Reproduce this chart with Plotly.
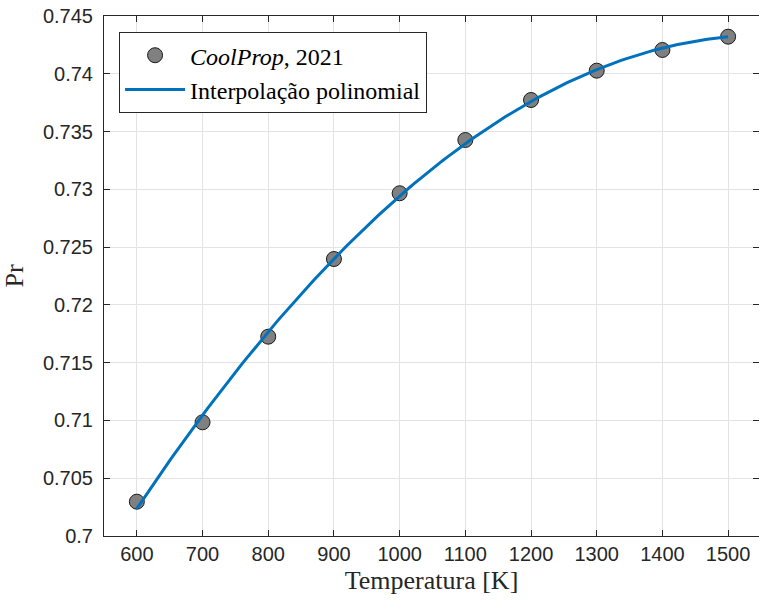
import numpy as np
import plotly.graph_objects as go

# Prandtl number vs temperature (CoolProp, 2021)
temperatura = [600, 700, 800, 900, 1000, 1100, 1200, 1300, 1400, 1500]
prandtl = [0.70297, 0.70984, 0.71725, 0.72397, 0.72966,
           0.73427, 0.73773, 0.74027, 0.74206, 0.74321]

x_ticks = [600, 700, 800, 900, 1000, 1100, 1200, 1300, 1400, 1500]
y_ticks = [0.7, 0.705, 0.71, 0.715, 0.72, 0.725, 0.73, 0.735, 0.74, 0.745]
y_tick_text = ["0.7", "0.705", "0.71", "0.715", "0.72",
               "0.725", "0.73", "0.735", "0.74", "0.745"]

# Polynomial fit through the tabulated points
coef = np.polyfit(temperatura, prandtl, 2)
t_fit = np.linspace(min(temperatura), max(temperatura), 200)
pr_fit = np.polyval(coef, t_fit)

serif = "Liberation Serif, DejaVu Serif, serif"
sans = "Liberation Sans, Arial, sans-serif"
axis_color = "#262626"
y_range = [0.7, 0.745]

fig = go.Figure()
fig.add_trace(go.Scatter(
    x=temperatura, y=prandtl, mode="markers",
    name="<i>CoolProp</i>, 2021",
    marker=dict(size=15, color="#808080", line=dict(color="#1a1a1a", width=1)),
))
fig.add_trace(go.Scatter(
    x=t_fit, y=pr_fit, mode="lines",
    name="Interpolação polinomial",
    line=dict(color="#0072BD", width=3),
))
# empty trace that carries the right-hand tick axis
fig.add_trace(go.Scatter(x=[None], y=[None], yaxis="y2", showlegend=False,
                         hoverinfo="skip"))

fig.update_layout(
    width=759, height=601,
    margin=dict(l=104, r=0, t=16, b=65),
    paper_bgcolor="white", plot_bgcolor="white",
    showlegend=True,
    legend=dict(
        x=0.023, y=0.969, xanchor="left", yanchor="top",
        bgcolor="white", bordercolor=axis_color, borderwidth=1,
        font=dict(family=serif, size=24, color="#000000"),
        itemwidth=60, tracegroupgap=0,
    ),
    xaxis=dict(
        range=[550, 1547], tickvals=x_ticks,
        ticks="inside", ticklen=6, tickcolor=axis_color,
        showline=True, linecolor=axis_color, linewidth=1, mirror="ticks",
        showgrid=True, gridcolor="#e3e3e3", gridwidth=1, zeroline=False,
        tickfont=dict(family=sans, size=20, color=axis_color),
        title=dict(text="Temperatura [K]", font=dict(family=serif, size=26, color=axis_color), standoff=6),
    ),
    yaxis=dict(
        range=y_range, tickvals=y_ticks, ticktext=y_tick_text,
        ticks="inside", ticklen=6, tickcolor=axis_color,
        showline=True, linecolor=axis_color, linewidth=1, mirror=False,
        showgrid=True, gridcolor="#e3e3e3", gridwidth=1, zeroline=False,
        tickfont=dict(family=sans, size=20, color=axis_color),
        ticklabelstandoff=6,
        title=dict(text="Pr", font=dict(family=serif, size=26, color=axis_color), standoff=12),
    ),
    yaxis2=dict(
        overlaying="y", side="right", anchor="x",
        range=y_range, tickvals=y_ticks,
        ticks="inside", ticklen=6, tickcolor=axis_color,
        showline=False, showgrid=False, zeroline=False, showticklabels=False,
    ),
)

fig.write_html("out.html")
